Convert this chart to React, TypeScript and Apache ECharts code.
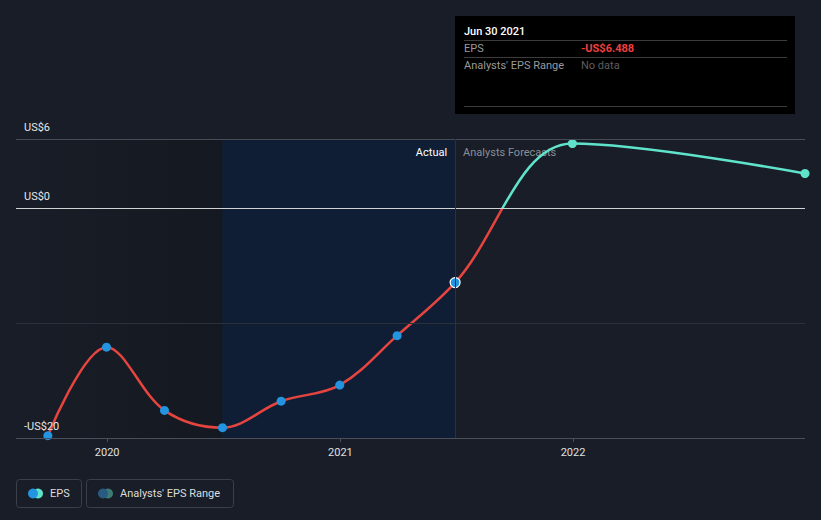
import React, { useEffect, useRef, useState } from "react";
import * as echarts from "echarts";

const actualDates = ["2019-09-30", "2019-12-31", "2020-03-31", "2020-06-30", "2020-09-30", "2020-12-31", "2021-03-31", "2021-06-30"];
const actualEps = [-19.8, -12.1, -17.6, -19.1, -16.8, -15.4, -11.1, -6.488];
const forecastDates = ["2021-12-31", "2022-12-31"];
const forecastEps = [5.6, 3.0];
const yTicks = [6, 0, -10, -20];
const yTickLabels = ["US$6", "US$0", "", "-US$20"];
const xTickDates = ["2020-01-01", "2021-01-01", "2022-01-01"];
const xMin = "2019-08-11";
const xMax = "2022-12-31";
const pastEnd = "2020-06-30";
const actualEnd = "2021-06-30";

const BG = "#181d27";
const RED = "#e5443f";
const TEAL = "#5fe3cb";
const BLUE = "#2394df";
const FONT = "Roboto, 'Noto Sans', sans-serif";

const MONTHS = ["Jan", "Feb", "Mar", "Apr", "May", "Jun", "Jul", "Aug", "Sep", "Oct", "Nov", "Dec"];
function ts(s: string) {
  const [y, m, d] = s.split("-").map((x) => parseInt(x, 10));
  return Date.UTC(y, m - 1, d);
}
function fmtDate(s: string) {
  const [y, m, d] = s.split("-");
  return `${MONTHS[parseInt(m, 10) - 1]} ${parseInt(d, 10)} ${y}`;
}
function fmtUsd(v: number) {
  return (v < 0 ? "-" : "") + "US$" + Math.abs(v).toFixed(3);
}

export default function App() {
  const ref = useRef<HTMLDivElement>(null);
  const [errs, setErrs] = useState<string[]>([]);
  useEffect(() => {
    if (!ref.current) return;
    const chart = echarts.init(ref.current, null, { renderer: "svg" });
    const errors: string[] = [];
    const lineData = [
      ...actualDates.map((d, i) => [ts(d), actualEps[i]]),
      ...forecastDates.map((d, i) => [ts(d), forecastEps[i]]),
    ];
    const lastIdx = actualDates.length - 1;
    const gridLineColors = ["#474c57", "#d0d2d6", "#2b303b", "#4a4f5a"];
    const tipX = 455, tipY = 16, tipW = 340, tipH = 98;
    const tipLabelX = tipX + 9, tipValX = tipX + 126;
    const xTicks = xTickDates.map(ts);

    const base = {
      animation: false,
      backgroundColor: BG,
      textStyle: { fontFamily: FONT },
      grid: { left: 16, right: 16, top: 139, bottom: 82 },
      xAxis: {
        type: "value",
        min: ts(xMin),
        max: ts(xMax),
        splitLine: { show: false },
        axisLine: { show: false, onZero: false },
        axisTick: { show: true, length: 4, lineStyle: { color: "#4a4f5a" }, customValues: xTicks },
        axisLabel: {
          customValues: xTicks,
          formatter: (v: number) => String(new Date(v).getUTCFullYear()),
          color: "#e0e0e0",
          fontSize: 11,
          margin: 9,
          fontFamily: FONT,
        },
      },
      yAxis: {
        type: "value",
        min: -20,
        max: 6,
        splitLine: { show: false },
        axisLine: { show: false },
        axisTick: { show: false },
        axisLabel: { show: false },
      },
      series: [
        {
          id: "bands",
          type: "line",
          data: lineData,
          silent: true,
          symbol: "none",
          lineStyle: { opacity: 0 },
          z: 1,
          markArea: {
            silent: true,
            data: [
              [
                {
                  xAxis: ts(xMin),
                  itemStyle: {
                    color: {
                      type: "linear", x: 0, y: 0, x2: 1, y2: 0,
                      colorStops: [
                        { offset: 0, color: "rgba(0,0,0,0.0)" },
                        { offset: 1, color: "rgba(0,0,0,0.16)" },
                      ],
                    },
                  },
                },
                { xAxis: ts(pastEnd) },
              ],
              [
                {
                  xAxis: ts(pastEnd),
                  itemStyle: { color: "#0f1e35" },
                  label: { show: true, position: "insideTopRight", formatter: "Actual", color: "#ffffff", fontSize: 11, distance: 8, fontFamily: FONT },
                },
                { xAxis: ts(actualEnd) },
              ],
              [
                {
                  xAxis: ts(actualEnd),
                  itemStyle: { color: "rgba(0,0,0,0)" },
                  label: { show: true, position: "insideTopLeft", formatter: "Analysts Forecasts", color: "#8a8e96", fontSize: 11, distance: 8, fontFamily: FONT },
                },
                { xAxis: ts(xMax) },
              ],
            ],
          },
          markLine: {
            silent: true,
            symbol: "none",
            data: [
              ...yTicks.map((v, i) => ({
                yAxis: v,
                lineStyle: { color: gridLineColors[i], width: i === 1 ? 1.2 : 1, type: "solid" },
                label: {
                  show: yTickLabels[i] !== "",
                  position: "insideStartTop",
                  formatter: yTickLabels[i],
                  color: "#e6e6e6",
                  fontSize: 11,
                  distance: 6,
                  padding: [0, 0, 0, 2],
                  fontFamily: FONT,
                },
              })),
              { xAxis: ts(actualEnd), lineStyle: { color: "#1f3352", width: 1, type: "solid" }, label: { show: false } },
            ],
          },
        },
        {
          id: "eps",
          type: "line",
          data: lineData,
          smooth: 0.35,
          symbol: "none",
          z: 3,
          lineStyle: { width: 2.5, color: RED },
        },
        {
          type: "scatter",
          z: 4,
          symbolSize: 9,
          data: actualDates.map((d, i) => ({
            value: [ts(d), actualEps[i]],
            symbolSize: i === lastIdx ? 10 : 9,
            itemStyle: i === lastIdx
              ? { color: BLUE, opacity: 1, borderColor: "#ffffff", borderWidth: 1.2 }
              : { color: BLUE, opacity: 1 },
          })),
        },
        {
          type: "scatter",
          z: 4,
          symbolSize: 9,
          itemStyle: { color: TEAL, opacity: 1 },
          data: forecastDates.map((d, i) => [ts(d), forecastEps[i]]),
        },
      ],
      graphic: [
        { type: "rect", shape: { x: tipX, y: tipY, width: tipW, height: tipH }, style: { fill: "#000000" }, z: 10 },
        { type: "text", x: tipLabelX, y: tipY + 15, style: { text: fmtDate(actualDates[lastIdx]), fill: "#ffffff", font: `500 11px ${FONT}`, verticalAlign: "middle" }, z: 11 },
        { type: "line", shape: { x1: tipLabelX, y1: tipY + 24.5, x2: tipX + tipW - 8, y2: tipY + 24.5 }, style: { stroke: "#3c3c3c", lineWidth: 1 }, z: 11 },
        { type: "text", x: tipLabelX, y: tipY + 32, style: { text: "EPS", fill: "#9a9a9a", font: `11px ${FONT}`, verticalAlign: "middle" }, z: 11 },
        { type: "text", x: tipValX, y: tipY + 32, style: { text: fmtUsd(actualEps[lastIdx]), fill: "#ee3f3f", font: `bold 11px ${FONT}`, verticalAlign: "middle" }, z: 11 },
        { type: "line", shape: { x1: tipLabelX, y1: tipY + 41.5, x2: tipX + tipW - 8, y2: tipY + 41.5 }, style: { stroke: "#3c3c3c", lineWidth: 1 }, z: 11 },
        { type: "text", x: tipLabelX, y: tipY + 49, style: { text: "Analysts' EPS Range", fill: "#9a9a9a", font: `11px ${FONT}`, verticalAlign: "middle" }, z: 11 },
        { type: "text", x: tipValX, y: tipY + 49, style: { text: "No data", fill: "#5e5e5e", font: `11px ${FONT}`, verticalAlign: "middle" }, z: 11 },
        { type: "line", shape: { x1: tipLabelX, y1: tipY + 90.5, x2: tipX + tipW - 8, y2: tipY + 90.5 }, style: { stroke: "#3c3c3c", lineWidth: 1 }, z: 11 },

        { type: "rect", shape: { x: 16.5, y: 479.5, width: 65, height: 28, r: 3 }, style: { fill: "none", stroke: "#3a3f4a", lineWidth: 1 }, z: 10 },
        { type: "circle", shape: { cx: 38, cy: 493.5, r: 5 }, style: { fill: TEAL }, z: 11 },
        { type: "circle", shape: { cx: 33, cy: 493.5, r: 5 }, style: { fill: BLUE }, z: 12 },
        { type: "text", x: 50, y: 493.5, style: { text: "EPS", fill: "#dddddd", font: `11px ${FONT}`, verticalAlign: "middle" }, z: 11 },

        { type: "rect", shape: { x: 86.5, y: 479.5, width: 147, height: 28, r: 3 }, style: { fill: "none", stroke: "#3a3f4a", lineWidth: 1 }, z: 10 },
        { type: "circle", shape: { cx: 108, cy: 493.5, r: 5 }, style: { fill: "#3c7a74" }, z: 11 },
        { type: "circle", shape: { cx: 103, cy: 493.5, r: 5 }, style: { fill: "#285a82" }, z: 12 },
        { type: "text", x: 120, y: 493.5, style: { text: "Analysts' EPS Range", fill: "#dddddd", font: `11px ${FONT}`, verticalAlign: "middle" }, z: 11 },
      ],
    };
    try {
      chart.setOption(base as any);
    } catch (e: any) {
      errors.push("base: " + e.message);
    }

    // colour the line red below zero and teal above, using the y scale's pixel for 0
    try {
      const top = chart.convertToPixel({ gridIndex: 0 } as any, [ts(xMin), 6]) as number[];
      const zero = chart.convertToPixel({ gridIndex: 0 } as any, [ts(xMin), 0]) as number[];
      const bottom = chart.convertToPixel({ gridIndex: 0 } as any, [ts(xMin), -20]) as number[];
      const off = (zero[1] - top[1]) / (bottom[1] - top[1]);
      chart.setOption({
        series: [
          {
            id: "eps",
            lineStyle: {
              color: {
                type: "linear", global: true, x: 0, y: top[1], x2: 0, y2: bottom[1],
                colorStops: [
                  { offset: 0, color: TEAL },
                  { offset: off, color: TEAL },
                  { offset: off, color: RED },
                  { offset: 1, color: RED },
                ],
              },
            },
          },
        ],
      } as any);
    } catch (e: any) {
      errors.push("grad: " + e.message);
    }
    if (errors.length) setErrs(errors);
    return () => chart.dispose();
  }, []);
  return (
    <div style={{ position: "fixed", left: 0, top: 0, width: 821, height: 520, background: BG }}>
      <div ref={ref} style={{ width: 821, height: 520 }} />
      {errs.length > 0 && (
        <div style={{ position: "absolute", left: 300, top: 470, color: "yellow", fontSize: 10 }}>{errs.join(" | ")}</div>
      )}
    </div>
  );
}
